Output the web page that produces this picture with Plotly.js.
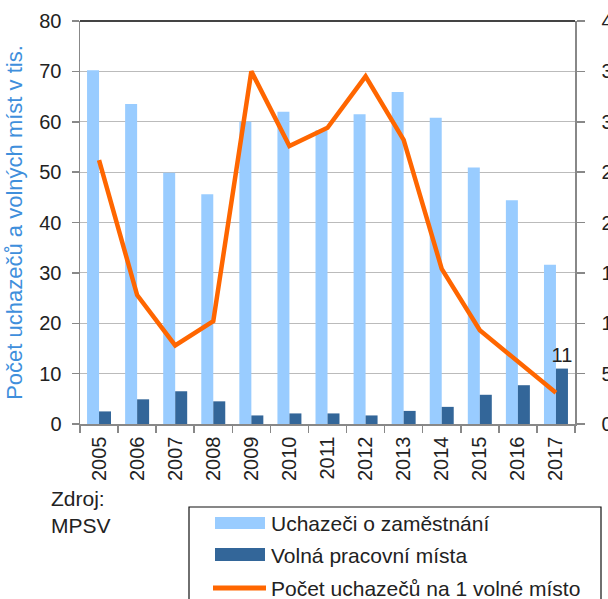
<!DOCTYPE html>
<html>
<head>
<meta charset="utf-8">
<script src="https://cdn.plot.ly/plotly-3.0.1.min.js"></script>
<style>
html, body { margin:0; padding:0; overflow:hidden; background:#fff; }
#chart { width:640px; height:640px; }
</style>
</head>
<body>
<div id="chart"></div>
<script>
var years = ['2005','2006','2007','2008','2009','2010','2011','2012','2013','2014','2015','2016','2017'];
var uchazeci = [70.2, 63.5, 49.9, 45.6, 60.0, 62.0, 58.3, 61.5, 65.9, 60.8, 50.9, 44.4, 31.6];
var volnaMista = [2.5, 4.9, 6.5, 4.5, 1.7, 2.1, 2.1, 1.7, 2.6, 3.4, 5.8, 7.7, 11.0];
var naMisto = [26.2, 12.8, 7.8, 10.2, 35.0, 27.6, 29.4, 34.5, 28.2, 15.4, 9.3, 6.2, 3.1];
var volnaLabels = ['', '', '', '', '', '', '', '', '', '', '', '', '11'];
var legendNames = ['Uchazeči o zaměstnání', 'Volná pracovní místa', 'Počet uchazečů na 1 volné místo'];

var W = 640, H = 640, L = 80, R = 575, T = 21, B = 424;
function px(x){ return (x - L) / (R - L); }
function py(y){ return (B - y) / (B - T); }

var FONT = '"Liberation Sans", Arial, sans-serif';
var lightC = '#99ccff', darkC = '#336699', orangeC = '#ff6600';

var traces = [
  {type:'bar', x:years, y:uchazeci, name:legendNames[0], marker:{color:lightC}, hoverinfo:'x+y'},
  {type:'bar', x:years, y:volnaMista, name:legendNames[1], marker:{color:darkC},
   text:volnaLabels, textposition:'outside', cliponaxis:false, constraintext:'none',
   textfont:{family:FONT, size:20, color:'#222'}},
  {type:'scatter', mode:'lines', x:years, y:naMisto, yaxis:'y2', name:legendNames[2],
   line:{color:orangeC, width:4.5, shape:'linear'}}
];

var shapes = [
  {type:'line', xref:'paper', yref:'paper', x0:0, x1:1, y0:1, y1:1, line:{color:'#444', width:2}},
  {type:'rect', xref:'paper', yref:'paper', x0:px(189), x1:px(601), y0:py(507), y1:py(660), line:{color:'#111', width:1.2}, fillcolor:'rgba(0,0,0,0)'},
  {type:'rect', xref:'paper', yref:'paper', x0:px(215), x1:px(265), y0:py(517), y1:py(529), line:{width:0}, fillcolor:lightC},
  {type:'rect', xref:'paper', yref:'paper', x0:px(215), x1:px(265), y0:py(548), y1:py(561), line:{width:0}, fillcolor:darkC},
  {type:'line', xref:'paper', yref:'paper', x0:px(213), x1:px(266), y0:py(588), y1:py(588), line:{color:orangeC, width:5}}
];

var annotations = [
  {xref:'paper', yref:'paper', x:px(269), y:py(523), xanchor:'left', yanchor:'middle', text:legendNames[0], showarrow:false, font:{family:FONT, size:21, color:'#222'}},
  {xref:'paper', yref:'paper', x:px(269), y:py(555), xanchor:'left', yanchor:'middle', text:legendNames[1], showarrow:false, font:{family:FONT, size:21, color:'#222'}},
  {xref:'paper', yref:'paper', x:px(269), y:py(588), xanchor:'left', yanchor:'middle', text:legendNames[2], showarrow:false, font:{family:FONT, size:21, color:'#222'}},
  {xref:'paper', yref:'paper', x:px(49), y:py(485), xanchor:'left', yanchor:'top', align:'left', text:'Zdroj:<br>MPSV', showarrow:false, font:{family:FONT, size:21, color:'#222'}}
];

var layout = {
  width:W, height:H,
  margin:{l:L, r:W-R, t:T, b:H-B, pad:0},
  paper_bgcolor:'#fff', plot_bgcolor:'#fff',
  font:{family:FONT, size:20, color:'#222'},
  showlegend:false,
  barmode:'group', bargap:0.37, bargroupgap:0,
  xaxis:{type:'category', tickson:'boundaries', ticks:'outside', ticklen:7, tickcolor:'#888', tickwidth:1.5,
         tickangle:-90, showline:true, linecolor:'#888', linewidth:1.5, showgrid:false,
         tickfont:{family:FONT, size:20, color:'#222'}, ticklabelstandoff:3, automargin:false},
  yaxis:{range:[0,80], dtick:10, ticks:'outside', ticklen:7, tickcolor:'#888', tickwidth:1.5,
         showline:true, linecolor:'#888', linewidth:1.5, gridcolor:'#bbb', gridwidth:1.2, zeroline:false,
         tickfont:{family:FONT, size:20, color:'#222'}, ticklabelstandoff:6, automargin:false,
         title:{text:'Počet uchazečů a volných míst v tis.', standoff:10, font:{family:FONT, size:22, color:'#3f8fdc'}}},
  yaxis2:{range:[0,40], dtick:5, overlaying:'y', side:'right', ticks:'outside', ticklen:8, tickcolor:'#888', tickwidth:1.5,
          showline:true, linecolor:'#888', linewidth:1.5, showgrid:false, zeroline:false,
          tickfont:{family:FONT, size:20, color:'#222'}, ticklabelstandoff:13, automargin:false},
  shapes:shapes,
  annotations:annotations
};

Plotly.newPlot('chart', traces, layout, {displayModeBar:false, staticPlot:true});
</script>
</body>
</html>
